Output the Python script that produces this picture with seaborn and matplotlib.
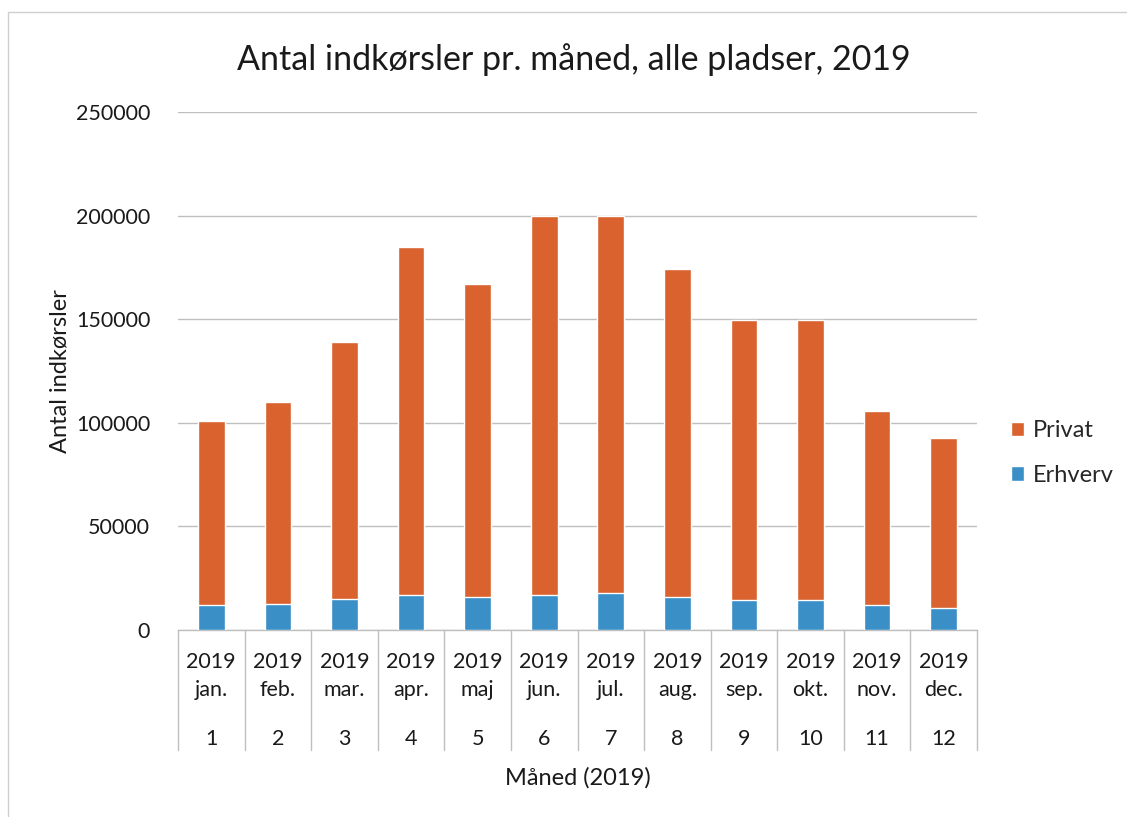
import matplotlib
matplotlib.use("Agg")
import matplotlib.pyplot as plt
import matplotlib.transforms as mtransforms
from matplotlib.patches import Patch, Rectangle
import numpy as np
import pandas as pd
import seaborn as sns

# -----------------------------
# Data
# -----------------------------
months = ["jan.", "feb.", "mar.", "apr.", "maj", "jun.",
          "jul.", "aug.", "sep.", "okt.", "nov.", "dec."]
month_numbers = ["1", "2", "3", "4", "5", "6", "7", "8", "9", "10", "11", "12"]
year = "2019"
totals = [101000, 110000, 139000, 185000, 167000, 200000,
          200000, 174000, 149500, 149500, 105500, 92500]
erhverv = [12000, 12500, 15000, 17000, 16000, 17000,
           18000, 16000, 14500, 14500, 12000, 10500]
privat = [t - e for t, e in zip(totals, erhverv)]
y_ticks = [0, 50000, 100000, 150000, 200000, 250000]

ORANGE = "#D9622E"
BLUE = "#3A8FC6"
GRID = "#BFBFBF"
TEXT = "#1A1A1A"

df = pd.DataFrame({"maaned": months, "erhverv": erhverv, "privat": privat})
df["total"] = df["erhverv"] + df["privat"]

# -----------------------------
# Figure
# -----------------------------
sns.set_theme(style="white")
plt.rcParams["font.family"] = ["Lato", "DejaVu Sans"]

W, H = 1127, 817
fig = plt.figure(figsize=(W / 100, H / 100), dpi=100)
fig.patch.set_facecolor("white")
ax = fig.add_axes([178 / W, 1 - 630 / H, 799 / W, 518 / H])

# stacked bars: total (orange) behind, erhverv (blue) in front
sns.barplot(data=df, x="maaned", y="total", color=ORANGE, saturation=1,
            width=0.4, ax=ax, zorder=3)
sns.barplot(data=df, x="maaned", y="erhverv", color=BLUE, saturation=1,
            width=0.4, ax=ax, zorder=4)

ax.set_xlim(-0.5, len(months) - 0.5)
ax.set_ylim(0, 250000)
ax.set_yticks(y_ticks)
ax.set_yticklabels([str(v) for v in y_ticks], fontsize=15.5, color=TEXT)
ax.tick_params(axis="y", length=0, pad=20)
ax.yaxis.grid(True, color=GRID, linewidth=1)
ax.set_axisbelow(True)
for side in ["left", "right", "top"]:
    ax.spines[side].set_visible(False)
ax.spines["bottom"].set_color(GRID)
ax.spines["bottom"].set_linewidth(1)

# multi-level category axis
ax.set_xticks(range(len(months)))
ax.set_xticklabels([f"{year}\n{m}" for m in months], fontsize=15.5,
                   color=TEXT, linespacing=1.5)
ax.tick_params(axis="x", length=0, pad=16)
trans = mtransforms.blended_transform_factory(ax.transData, ax.transAxes)
for i, n in enumerate(month_numbers):
    ax.text(i, -0.21, n, transform=trans, ha="center", va="center",
            fontsize=15.5, color=TEXT)
for i in range(len(months) + 1):
    ax.plot([i - 0.5, i - 0.5], [0, -0.232], transform=trans, color=GRID,
            linewidth=1, clip_on=False)

ax.set_xlabel("Måned (2019)", fontsize=17, color=TEXT, labelpad=48)
ax.set_ylabel("Antal indkørsler", fontsize=17, color=TEXT, labelpad=4)

fig.text(574 / W, 1 - 60 / H, "Antal indkørsler pr. måned, alle pladser, 2019",
         ha="center", va="center", fontsize=24.5, color=TEXT)

handles = [Patch(facecolor=ORANGE, label="Privat"),
           Patch(facecolor=BLUE, label="Erhverv")]
fig.legend(handles=handles, loc="center left",
           bbox_to_anchor=(990 / W, 1 - 453 / H), frameon=False,
           fontsize=17, handlelength=0.55, handleheight=0.55,
           handletextpad=0.35, labelspacing=1.0)

# faint page frame from the scan
fig.patches.append(Rectangle((8 / W, -0.01), 1.02, 1 - 12 / H + 0.01,
                             transform=fig.transFigure, fill=False,
                             edgecolor="#CFCFCF", linewidth=1))

fig.savefig("out.png", dpi=100)
